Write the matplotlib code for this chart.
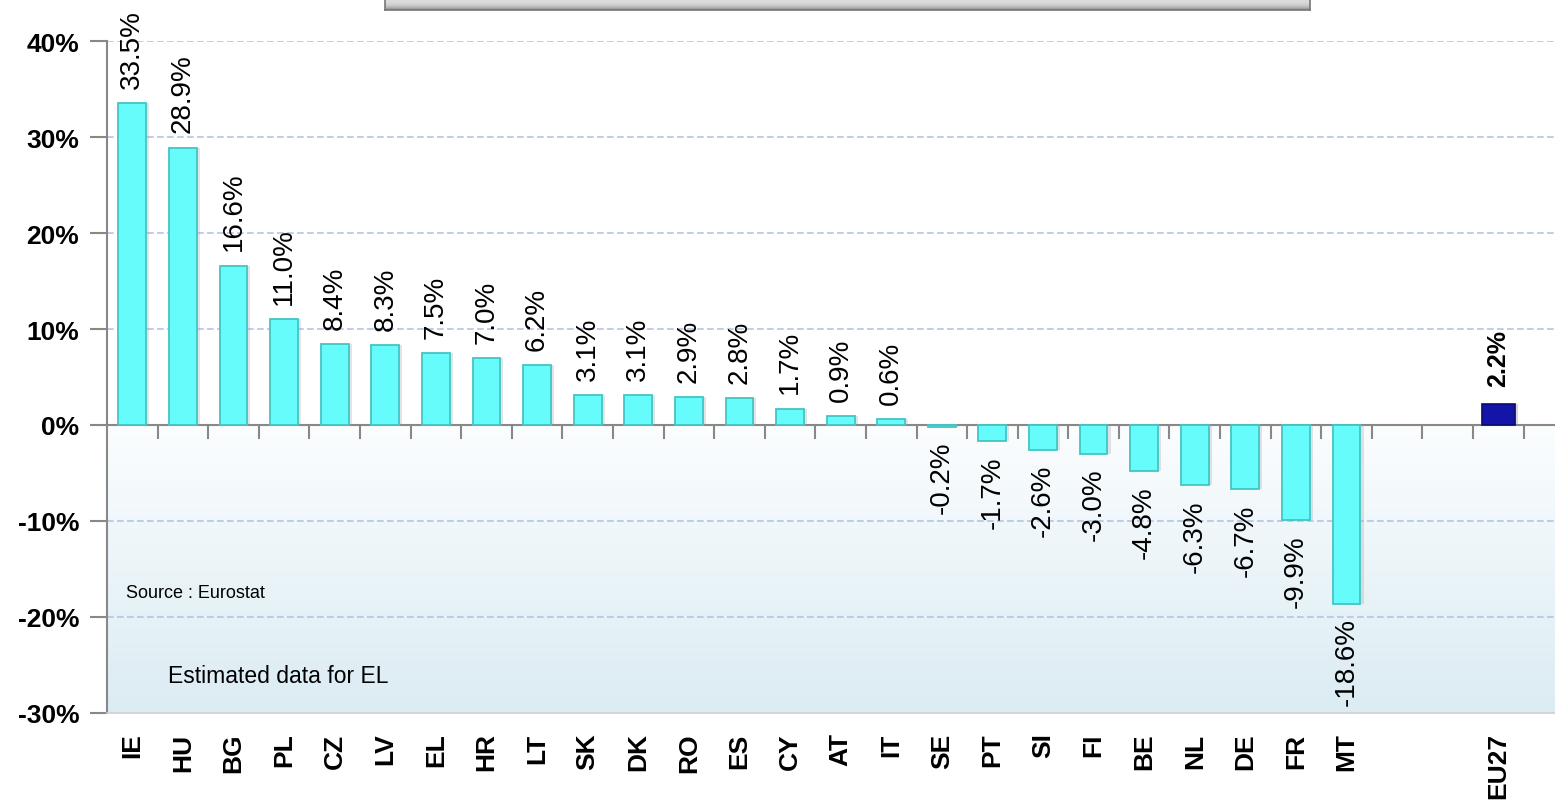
import matplotlib
matplotlib.use("Agg")
import matplotlib.pyplot as plt
import numpy as np

countries = ["IE", "HU", "BG", "PL", "CZ", "LV", "EL", "HR", "LT", "SK", "DK", "RO", "ES",
             "CY", "AT", "IT", "SE", "PT", "SI", "FI", "BE", "NL", "DE", "FR", "MT"]
values = [33.5, 28.9, 16.6, 11.0, 8.4, 8.3, 7.5, 7.0, 6.2, 3.1, 3.1, 2.9, 2.8,
          1.7, 0.9, 0.6, -0.2, -1.7, -2.6, -3.0, -4.8, -6.3, -6.7, -9.9, -18.6]
eu_label = "EU27"
eu_value = 2.2
yticks = [-30, -20, -10, 0, 10, 20, 30, 40]

plt.rcParams['font.family'] = ['Liberation Sans', 'DejaVu Sans']

fig = plt.figure(figsize=(15.55, 8.03), dpi=100)
W, H = 1555, 803
ax = fig.add_axes([107 / W, (H - 714) / H, (W - 107) / W, (714 - 42) / H])

x = np.arange(len(countries))
eu_x = len(countries) + 2
xmin, xmax = -0.5, 28.12
ax.set_xlim(xmin, xmax)
ax.set_ylim(-30, 40)

# gradient background below zero
grad = np.linspace(0, 1, 256).reshape(-1, 1)
top_c = np.array([0.985, 0.993, 0.998])
bot_c = np.array([0.86, 0.925, 0.952])
img = top_c[None, None, :] * (1 - grad[:, :, None]) + bot_c[None, None, :] * grad[:, :, None]
ax.imshow(img, extent=(xmin, xmax, -30, 0), aspect='auto', origin='upper', zorder=0)

# grid lines
for yv in yticks:
    if yv not in (0, -30):
        ax.axhline(yv, color='#b4c4ea', lw=1.2, ls=(0, (4, 2)), zorder=1)

# bars with shadow
bw = 0.55
ax.bar(x + 0.06, values, width=bw, bottom=0, color='#9aa8a8', alpha=0.3, zorder=2)
ax.bar(x, values, width=bw, color='#66fcfc', edgecolor='#45c4c4', linewidth=1.3, zorder=3)
ax.bar([eu_x + 0.06], [eu_value], width=0.65, color='#777799', alpha=0.3, zorder=2)
ax.bar([eu_x], [eu_value], width=0.65, color='#1414a8', edgecolor='#0a0a70', linewidth=1.2, zorder=3)

# value labels
for xi, v in zip(x, values):
    ax.annotate(f"{v:.1f}%", (xi, v), xytext=(0, 11 if v >= 0 else -10), textcoords='offset points',
                rotation=90, ha='center', va='bottom' if v >= 0 else 'top', fontsize=20,
                color='black', zorder=5)
ax.annotate(f"{eu_value:.1f}%", (eu_x, eu_value), xytext=(0, 13), textcoords='offset points',
            rotation=90, ha='center', va='bottom', fontsize=18, fontweight='bold', zorder=5)

# axes styling
for s in ['top', 'right']:
    ax.spines[s].set_visible(False)
ax.spines['left'].set_color('#888888')
ax.spines['left'].set_linewidth(1.5)
ax.spines['bottom'].set_color('#d0d0d0')
ax.spines['bottom'].set_linewidth(1.2)

ax.set_yticks(yticks)
ax.set_yticklabels([f"{t}%" for t in yticks], fontsize=19, fontweight='bold')
ax.tick_params(axis='y', direction='out', length=12, width=1.5, color='#888888', pad=8)

ax.set_xticks(list(x) + [eu_x])
ax.set_xticklabels(countries + [eu_label], rotation=90, fontsize=19, fontweight='bold')
ax.tick_params(axis='x', length=0, pad=14)

# zero line with ticks between categories
sec = ax.secondary_xaxis(30 / 70)
sec.set_xticks(np.arange(0.5, eu_x + 1, 1.0))
sec.set_xticklabels([])
sec.tick_params(direction='out', length=10, width=1.5, color='#888888')
sec.spines['bottom'].set_color('#888888')
sec.spines['bottom'].set_linewidth(1.5)
sec.spines['bottom'].set_zorder(4)

# notes
fig.text(126 / W, (H - 594) / H, "Source : Eurostat", fontsize=13, va='center', ha='left')
fig.text(168 / W, (H - 677) / H, "Estimated data for EL", fontsize=16.5, va='center', ha='left')

# cut-off title box at top
bax = fig.add_axes([385 / W, (H - 11) / H, 925 / W, 11 / H])
g = np.linspace(0, 1, 64).reshape(-1, 1)
bimg = np.repeat((0.86 - 0.35 * g ** 3)[:, :, None], 3, axis=2)
bax.imshow(bimg, aspect='auto', extent=(0, 1, 0, 1), origin='upper')
bax.set_xticks([]); bax.set_yticks([])
for s in bax.spines.values():
    s.set_color('#777777')
    s.set_linewidth(1.2)

fig.savefig("out.png", dpi=100)
